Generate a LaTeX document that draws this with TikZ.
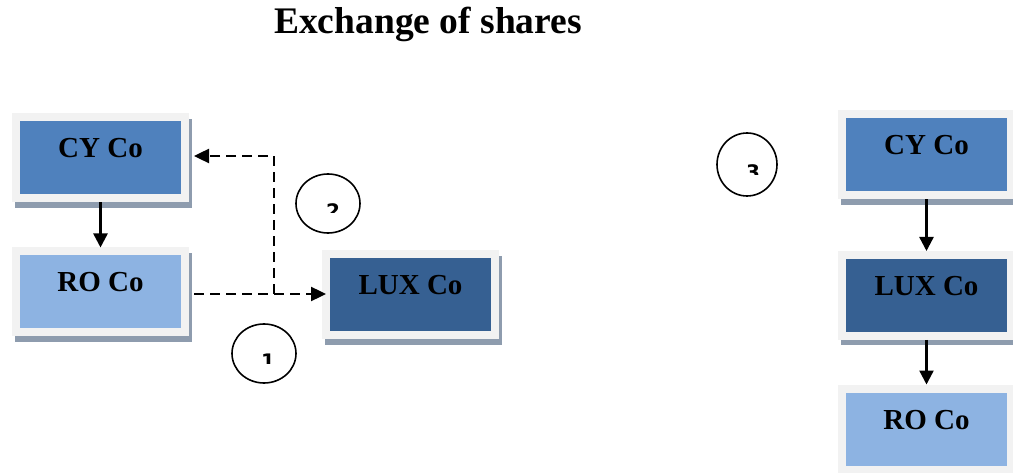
\documentclass[tikz,border=0pt]{standalone}
\usepackage{fontspec}
\setmainfont{Liberation Serif}
\newfontfamily\digitfont{DejaVu Sans}
\usetikzlibrary{arrows.meta,shapes.geometric,calc,backgrounds}
\definecolor{cyblue}{HTML}{4F81BD}
\definecolor{luxblue}{HTML}{366092}
\definecolor{roblue}{HTML}{8DB3E2}
\definecolor{framegray}{HTML}{F2F2F2}
\definecolor{shadowgray}{HTML}{8E9CAE}
\tikzset{
  company/.style={rectangle, draw=framegray, line width=8pt,
    minimum width=169pt, minimum height=81pt, inner sep=0pt, outer sep=4pt,
    text height=20pt, text depth=20pt,
    font=\fontsize{29}{30}\selectfont\bfseries},
  own/.style={-{Triangle[length=14pt,width=14pt]}, line width=2.4pt},
  deal/.style={-{Triangle[length=15pt,width=14pt]}, line width=2.4pt,
    dash pattern=on 10pt off 6pt},
  stepmark/.style={ellipse, draw, line width=1.6pt, minimum width=64pt,
    minimum height=59pt, inner sep=0pt},
  stepnum/.style={font=\digitfont\bfseries\fontsize{20}{20}\selectfont,
    inner sep=0pt, anchor=north},
}
\begin{document}
\begin{tikzpicture}[x=1pt, y=-1pt]
\useasboundingbox (0,0) rectangle (1013,473);

% title
\node[font=\fontsize{37.5}{40}\selectfont\bfseries, anchor=base] (title)
  at (428,34) {Exchange of shares};

% companies before the exchange
\node[company, fill=cyblue]  (cyL)  at (100.5,158) {CY Co};
\node[company, fill=roblue]  (roL)  at (100.5,292) {RO Co};
\node[company, fill=luxblue] (luxL) at (410.5,295) {LUX Co};

% companies after the exchange
\node[company, fill=cyblue]  (cyR)  at (926.5,155)   {CY Co};
\node[company, fill=luxblue] (luxR) at (926.5,295.5) {LUX Co};
\node[company, fill=roblue]  (roR)  at (926.5,429)   {RO Co};

% drop shadows behind the boxes
\begin{scope}[on background layer]
  \foreach \n in {cyL,roL,luxL,cyR,luxR,roR}
    \fill[shadowgray] ([shift={(3,5.5)}]\n.north west)
      rectangle ([shift={(3,5.5)}]\n.south east);
\end{scope}

% shareholdings
\draw[own] (cyL.south) -- (roL.north);
\draw[own] (cyR.south) -- (luxR.north);
\draw[own] (luxR.south) -- (roR.north);

% transfer of RO shares and issue of LUX shares
\coordinate (turn) at (274,294);
\draw[deal] ($(roL.east)+(5,2)$) -- ($(luxL.west)+(4,-1)$);
\draw[deal] (turn) -- ($(turn |- cyL.east)+(0,-2)$) -- ($(cyL.east)+(5,-2)$);

% step markers
\node[stepmark] (m2) at (328,203.5) {};
\node[stepmark] (m1) at (264,353.5) {};
\node[stepmark, minimum width=60pt, minimum height=63pt] (m3) at (747,164.5) {};

\begin{scope}
  \clip (290,190) rectangle (370,213);
  \node[stepnum] (d2) at (333,203) {2};
\end{scope}
\begin{scope}
  \clip (230,340) rectangle (300,363.5);
  \node[stepnum] (d1) at (268,354) {1};
\end{scope}
\begin{scope}
  \clip (720,150) rectangle (780,175);
  \node[stepnum] (d3) at (753,164) {3};
\end{scope}
\end{tikzpicture}
\end{document}
